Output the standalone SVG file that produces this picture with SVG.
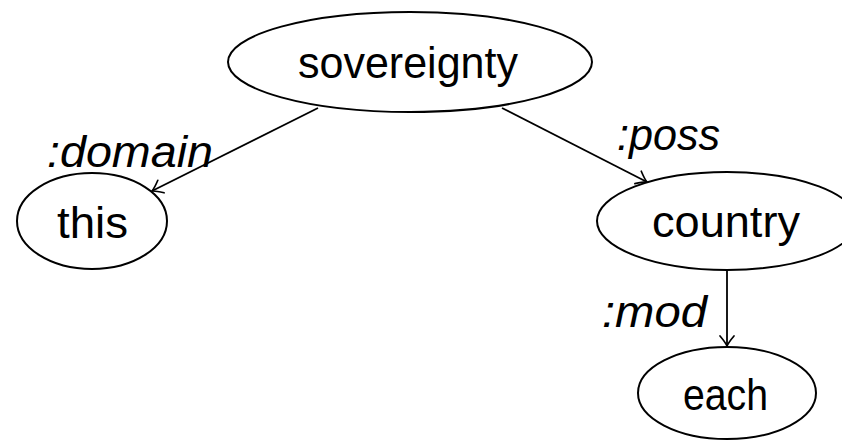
<svg xmlns="http://www.w3.org/2000/svg" width="842" height="440" viewBox="0 0 842 440">
  <defs>
    <style>
      .node ellipse { fill: #ffffff; stroke: #000000; stroke-width: 2; }
      .node text { font-family: "Liberation Sans", Arial, sans-serif; font-size: 45px; fill: #000000; text-anchor: middle; }
      .edges line { stroke: #000000; stroke-width: 1.8; fill: none; marker-end: url(#arrow); }
      .label { font-family: "Liberation Sans", Arial, sans-serif; font-size: 45px; font-style: italic; fill: #000000; }
    </style>
    <!-- open, slightly curved arrow tip -->
    <marker id="arrow" markerUnits="userSpaceOnUse" markerWidth="16" markerHeight="16" viewBox="-12 -8 14 16" refX="0" refY="0" orient="auto" overflow="visible">
      <path d="M -10 -7 Q -3.5 -1.5 0 0 Q -3.5 1.5 -10 7" fill="none" stroke="#000000" stroke-width="1.7" stroke-linecap="round"/>
    </marker>
  </defs>

  <rect width="842" height="440" fill="#ffffff"/>

  <!-- connectors -->
  <g id="edges" class="edges">
    <line x1="318" y1="108" x2="152" y2="191"/>
    <line x1="502" y1="108" x2="647" y2="182"/>
    <line x1="727" y1="270" x2="727" y2="346"/>
  </g>

  <!-- edge labels -->
  <g id="edge-labels">
    <text class="label" x="47" y="167" textLength="166" lengthAdjust="spacingAndGlyphs">:domain</text>
    <text class="label" x="617" y="150" textLength="103" lengthAdjust="spacingAndGlyphs">:poss</text>
    <text class="label" x="602" y="327" textLength="105" lengthAdjust="spacingAndGlyphs">:mod</text>
  </g>

  <!-- nodes -->
  <g id="node-sovereignty" class="node">
    <ellipse cx="410" cy="62" rx="182" ry="50"/>
    <text x="408" y="78" textLength="220" lengthAdjust="spacingAndGlyphs">sovereignty</text>
  </g>
  <g id="node-this" class="node">
    <ellipse cx="92" cy="221" rx="75" ry="48"/>
    <text x="92.5" y="238" textLength="71" lengthAdjust="spacingAndGlyphs">this</text>
  </g>
  <g id="node-country" class="node">
    <ellipse cx="727" cy="221" rx="130" ry="49"/>
    <text x="726" y="237" textLength="148" lengthAdjust="spacingAndGlyphs">country</text>
  </g>
  <g id="node-each" class="node">
    <ellipse cx="727" cy="393" rx="89" ry="46"/>
    <text x="725.5" y="410" textLength="85" lengthAdjust="spacingAndGlyphs">each</text>
  </g>
</svg>
